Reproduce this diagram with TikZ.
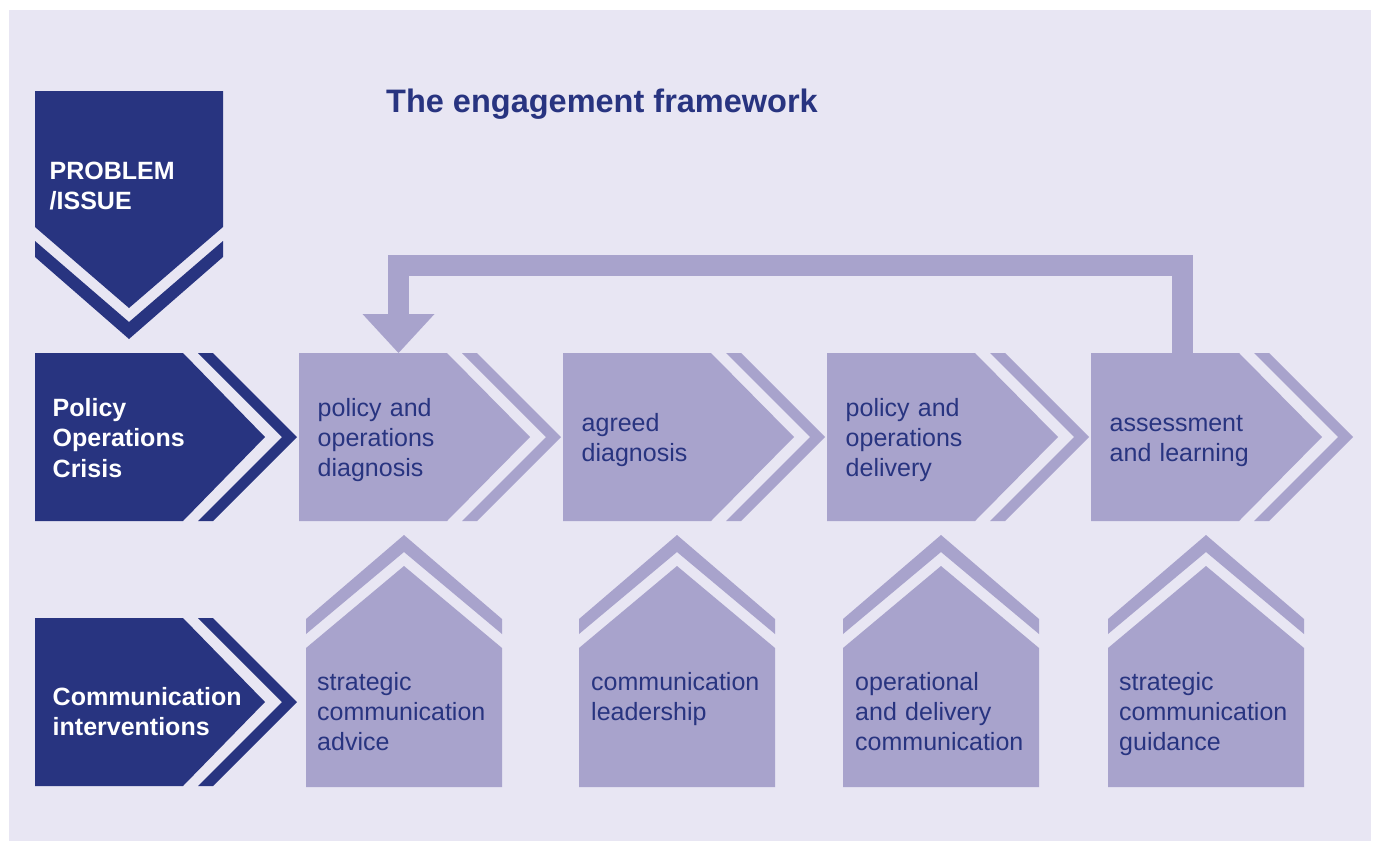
\documentclass[tikz,border=0pt]{standalone}
\usepackage{fontspec}
\setmainfont{Liberation Sans}
\usetikzlibrary{arrows.meta}

\definecolor{navy}{RGB}{40,52,128}
\definecolor{lilac}{RGB}{168,163,204}
\definecolor{paper}{RGB}{232,230,243}

\begin{document}
\begin{tikzpicture}[x=1pt,y=-1pt]
\fill[white] (0,0) rectangle (1376,841);
\fill[paper] (9,10) rectangle (1371,841);
\useasboundingbox (0,0) rectangle (1376,841);

\node[anchor=base west,inner sep=0pt,text=navy,font=\fontsize{32.5}{38}\selectfont\bfseries] (t) at (386,112.5) {The engagement framework};

% problem/issue
\fill[navy] (35,91) -- (223,91) -- (223,227) -- (129,308) -- (35,227) -- cycle;
\fill[navy] (35,241) -- (129,322) -- (223,241) -- (223,257) -- (129,339) -- (35,257) -- cycle;

% dark chevrons
\fill[navy,shift={(35,353)}] (0,0) -- (148,0) -- (230,84) -- (148,168) -- (0,168) -- cycle;
\fill[navy,shift={(35,353)}] (163,0) -- (178,0) -- (262,84) -- (178,168) -- (163,168) -- (247,84) -- cycle;
\fill[navy,shift={(35,618)}] (0,0) -- (148,0) -- (230,84) -- (148,168) -- (0,168) -- cycle;
\fill[navy,shift={(35,618)}] (163,0) -- (178,0) -- (262,84) -- (178,168) -- (163,168) -- (247,84) -- cycle;

% light chevrons
\fill[lilac,shift={(299,353)}] (0,0) -- (148,0) -- (231,84) -- (148,168) -- (0,168) -- cycle;
\fill[lilac,shift={(299,353)}] (163,0) -- (178,0) -- (262,84) -- (178,168) -- (163,168) -- (247,84) -- cycle;
\fill[lilac,shift={(563,353)}] (0,0) -- (148,0) -- (231,84) -- (148,168) -- (0,168) -- cycle;
\fill[lilac,shift={(563,353)}] (163,0) -- (178,0) -- (262,84) -- (178,168) -- (163,168) -- (247,84) -- cycle;
\fill[lilac,shift={(827,353)}] (0,0) -- (148,0) -- (231,84) -- (148,168) -- (0,168) -- cycle;
\fill[lilac,shift={(827,353)}] (163,0) -- (178,0) -- (262,84) -- (178,168) -- (163,168) -- (247,84) -- cycle;
\fill[lilac,shift={(1091,353)}] (0,0) -- (148,0) -- (231,84) -- (148,168) -- (0,168) -- cycle;
\fill[lilac,shift={(1091,353)}] (163,0) -- (178,0) -- (262,84) -- (178,168) -- (163,168) -- (247,84) -- cycle;

% houses
\fill[lilac,shift={(306,0)}] (0,787) -- (0,648) -- (98,566) -- (196,648) -- (196,787) -- cycle;
\fill[lilac,shift={(306,0)}] (0,619) -- (98,535) -- (196,619) -- (196,634) -- (98,552) -- (0,634) -- cycle;
\fill[lilac,shift={(579,0)}] (0,787) -- (0,648) -- (98,566) -- (196,648) -- (196,787) -- cycle;
\fill[lilac,shift={(579,0)}] (0,619) -- (98,535) -- (196,619) -- (196,634) -- (98,552) -- (0,634) -- cycle;
\fill[lilac,shift={(843,0)}] (0,787) -- (0,648) -- (98,566) -- (196,648) -- (196,787) -- cycle;
\fill[lilac,shift={(843,0)}] (0,619) -- (98,535) -- (196,619) -- (196,634) -- (98,552) -- (0,634) -- cycle;
\fill[lilac,shift={(1108,0)}] (0,787) -- (0,648) -- (98,566) -- (196,648) -- (196,787) -- cycle;
\fill[lilac,shift={(1108,0)}] (0,619) -- (98,535) -- (196,619) -- (196,634) -- (98,552) -- (0,634) -- cycle;

\begin{scope}[every node/.style={anchor=base west,inner sep=0pt,text width=240pt,align=left,text=white,font=\fontsize{25}{30.5}\selectfont\bfseries}]
    \node (p) at (49.5,179) {PROBLEM\\/ISSUE};
    \node (d1) at (52.5,416) {Policy\\Operations\\Crisis};
    \node (d2) at (52.5,705) {Communication\\interventions};
\end{scope}

\begin{scope}[every node/.style={anchor=base west,inner sep=0pt,text width=200pt,align=left,text=navy,font=\fontsize{25}{30}\selectfont}]
    \node (c1) at (317.5,416.5) {policy and\\operations\\diagnosis};
    \node (c2) at (581.5,431) {agreed\\diagnosis};
    \node (c3) at (845.5,416.5) {policy and\\operations\\delivery};
    \node (c4) at (1109.5,431) {assessment\\and learning};

    \node (h1) at (317,690) {strategic\\communication\\advice};
    \node (h2) at (591,690) {communication\\leadership};
    \node (h3) at (855,690) {operational\\and delivery\\communication};
    \node (h4) at (1119,690) {strategic\\communication\\guidance};
\end{scope}

% feedback loop
\coordinate (back) at (1182.5,353);
\coordinate (front) at (398.5,353);
\draw[lilac,line width=21pt,-{Triangle[width=72pt,length=39pt,line width=0pt]}] (back) -- ++(0,-87.5) -| (front);
\end{tikzpicture}
\end{document}
